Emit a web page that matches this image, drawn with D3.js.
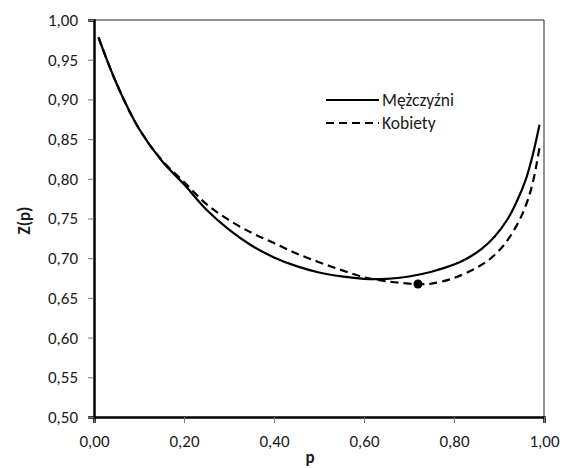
<!DOCTYPE html>
<html>
<head>
    <meta charset="utf-8">
    <title>Z(p)</title>
    <style>
        body { margin: 0; background: #fff; }
        text { font-family: Carlito, Lato, "Open Sans", sans-serif; fill: #1a1a1a; }
        .tick text { font-size: 17px; }
        .axis-title { font-size: 17px; font-weight: bold; }
        .legend text { font-size: 17.5px; }
    </style>
</head>
<body>
    <div id="chart"></div>
    <script src="https://cdnjs.cloudflare.com/ajax/libs/d3/7.8.5/d3.min.js"></script>
    <script>
        // p values and Z(p) for both groups
        const pMen = [0.01, 0.05, 0.10, 0.15, 0.20, 0.25, 0.30, 0.35, 0.40, 0.45, 0.50, 0.55,
                      0.60, 0.65, 0.70, 0.75, 0.80, 0.83, 0.86, 0.89, 0.92, 0.94, 0.96, 0.975, 0.99];
        const zMen = [0.978, 0.920, 0.863, 0.823, 0.793, 0.761, 0.736, 0.716, 0.701, 0.690, 0.682, 0.677,
                      0.674, 0.674, 0.677, 0.683, 0.692, 0.700, 0.711, 0.727, 0.750, 0.772, 0.800, 0.830, 0.868];
        const pWomen = [0.01, 0.05, 0.10, 0.15, 0.20, 0.25, 0.30, 0.35, 0.40, 0.45, 0.50, 0.55,
                        0.60, 0.65, 0.70, 0.72, 0.75, 0.80, 0.85, 0.88, 0.91, 0.94, 0.96, 0.975, 0.99];
        const zWomen = [0.978, 0.920, 0.863, 0.824, 0.796, 0.768, 0.748, 0.732, 0.719, 0.706, 0.695, 0.685,
                        0.676, 0.671, 0.668, 0.6675, 0.668, 0.675, 0.688, 0.699, 0.716, 0.742, 0.767, 0.795, 0.839];
        const minPoint = { p: 0.72, z: 0.6675 };

        const seriesNames = ["Mężczyźni", "Kobiety"];
        const xTicks = [0, 0.2, 0.4, 0.6, 0.8, 1.0];
        const yTicks = [0.50, 0.55, 0.60, 0.65, 0.70, 0.75, 0.80, 0.85, 0.90, 0.95, 1.00];

        const W = 568, H = 468;
        const margin = {top: 20, right: 24, bottom: 51, left: 94};
        const width = W - margin.left - margin.right;
        const height = H - margin.top - margin.bottom;

        const svg = d3.select("#chart").append("svg")
            .attr("width", W).attr("height", H);
        const g = svg.append("g")
            .attr("transform", `translate(${margin.left},${margin.top})`);

        const x = d3.scaleLinear().domain([0, 1]).range([0, width]);
        const y = d3.scaleLinear().domain([0.5, 1]).range([height, 0]);
        const fmt = d => d.toFixed(2).replace(".", ",");

        // thin frame on top and right
        g.append("line").attr("x1", 0).attr("x2", width).attr("y1", 0).attr("y2", 0)
            .attr("stroke", "#222").attr("stroke-width", 1);
        g.append("line").attr("x1", width).attr("x2", width).attr("y1", 0).attr("y2", height)
            .attr("stroke", "#222").attr("stroke-width", 1);

        const xAxis = g.append("g")
            .attr("transform", `translate(0,${height})`)
            .call(d3.axisBottom(x).tickValues(xTicks).tickFormat(fmt).tickSize(6).tickPadding(12));
        const yAxis = g.append("g")
            .call(d3.axisLeft(y).tickValues(yTicks).tickFormat(fmt).tickSize(6).tickPadding(10));

        [xAxis, yAxis].forEach(a => {
            a.select(".domain").attr("stroke", "#000").attr("stroke-width", 2.5);
            a.selectAll(".tick line").attr("stroke", "#777").attr("stroke-width", 1);
            a.selectAll(".tick text").attr("fill", "#1a1a1a");
        });

        // axis titles
        svg.append("text").attr("class", "axis-title")
            .attr("x", margin.left + width / 2 - 9).attr("y", 463)
            .attr("text-anchor", "middle").text("p");
        svg.append("text").attr("class", "axis-title")
            .attr("transform", `translate(30,${margin.top + height / 2 + 2}) rotate(-90)`)
            .attr("text-anchor", "middle").text("Z(p)");

        const line = d3.line()
            .x(d => x(d[0])).y(d => y(d[1]))
            .curve(d3.curveCatmullRom.alpha(0.5));

        g.append("path")
            .datum(d3.zip(pMen, zMen))
            .attr("fill", "none").attr("stroke", "#000").attr("stroke-width", 2.2)
            .attr("d", line);

        g.append("path")
            .datum(d3.zip(pWomen, zWomen))
            .attr("fill", "none").attr("stroke", "#000").attr("stroke-width", 2.2)
            .attr("stroke-dasharray", "8,5")
            .attr("d", line);

        g.append("circle")
            .attr("cx", x(minPoint.p)).attr("cy", y(minPoint.z))
            .attr("r", 4.5).attr("fill", "#000");

        // legend
        const legend = svg.append("g").attr("class", "legend");
        seriesNames.forEach((name, i) => {
            const ly = 100 + i * 23;
            legend.append("line")
                .attr("x1", 326).attr("x2", 379).attr("y1", ly).attr("y2", ly)
                .attr("stroke", "#000").attr("stroke-width", 2.2)
                .attr("stroke-dasharray", i === 1 ? "8,5" : null);
            legend.append("text")
                .attr("x", 382).attr("y", ly).attr("dy", "0.35em")
                .text(name);
        });
    </script>
</body>
</html>
